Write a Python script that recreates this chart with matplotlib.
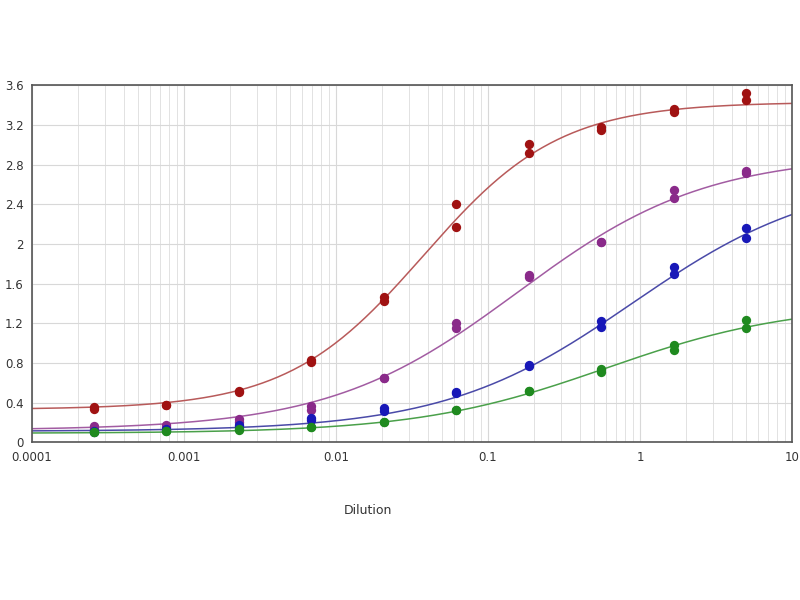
import numpy as np
import matplotlib
matplotlib.use("Agg")
import matplotlib.pyplot as plt
from matplotlib.ticker import LogLocator, FixedLocator, NullFormatter

# Dilution points (3-fold series)
dilution = [0.000254, 0.000762, 0.00229, 0.00686, 0.0206, 0.0617, 0.185, 0.556, 1.667, 5.0]

# Replicate readings (two per dilution)
red_a    = [0.33, 0.38, 0.51, 0.81, 1.46, 2.40, 3.01, 3.18, 3.36, 3.52]
red_b    = [0.36, 0.38, 0.52, 0.83, 1.42, 2.17, 2.92, 3.15, 3.33, 3.45]
purple_a = [0.16, 0.17, 0.23, 0.37, 0.65, 1.20, 1.69, 2.02, 2.54, 2.73]
purple_b = [0.13, 0.15, 0.20, 0.32, 0.65, 1.15, 1.67, 2.02, 2.46, 2.71]
blue_a   = [0.11, 0.13, 0.17, 0.24, 0.34, 0.51, 0.78, 1.22, 1.77, 2.16]
blue_b   = [0.10, 0.12, 0.15, 0.22, 0.31, 0.50, 0.77, 1.16, 1.70, 2.06]
green_a  = [0.10, 0.11, 0.13, 0.15, 0.20, 0.32, 0.52, 0.74, 0.98, 1.23]
green_b  = [0.10, 0.11, 0.12, 0.15, 0.20, 0.32, 0.52, 0.71, 0.93, 1.15]

# 4-parameter logistic fit parameters: bottom, top, EC50, hill
red_fit    = [0.33, 3.43, 0.0375, 0.97]
purple_fit = [0.12, 2.90, 0.156, 0.70]
blue_fit   = [0.11, 2.70, 0.897, 0.70]
green_fit  = [0.09, 1.40, 0.593, 0.70]

y_ticks = [0, 0.4, 0.8, 1.2, 1.6, 2, 2.4, 2.8, 3.2, 3.6]
y_tick_labels = ["0", "0.4", "0.8", "1.2", "1.6", "2", "2.4", "2.8", "3.2", "3.6"]
x_ticks = [0.0001, 0.001, 0.01, 0.1, 1, 10]
x_tick_labels = ["0.0001", "0.001", "0.01", "0.1", "1", "10"]

series = [
    (red_a, red_b, red_fit, "#a01212", "#b85a5a"),
    (purple_a, purple_b, purple_fit, "#8a2a8a", "#a25ca2"),
    (blue_a, blue_b, blue_fit, "#1818b8", "#4a4aa8"),
    (green_a, green_b, green_fit, "#1f8a1f", "#4aa04a"),
]

fig = plt.figure(figsize=(8, 6), dpi=100)
ax = fig.add_axes([0.04, 0.263, 0.95, 0.595])

xs = np.logspace(-4, 1, 400)
for a, b, fit, pc, lc in series:
    bot, top, c, h = fit
    ys = bot + (top - bot) / (1 + (c / xs) ** h)
    ax.plot(xs, ys, color=lc, lw=1.1, zorder=2)
    ax.scatter(dilution, a, s=45, color=pc, zorder=3, linewidths=0)
    ax.scatter(dilution, b, s=45, color=pc, zorder=3, linewidths=0)

ax.set_xscale("log")
ax.set_xlim(0.0001, 10)
ax.set_ylim(0, 3.6)
ax.xaxis.set_major_locator(FixedLocator(x_ticks))
ax.set_xticklabels(x_tick_labels)
ax.xaxis.set_minor_locator(LogLocator(base=10, subs=np.arange(2, 10), numticks=20))
ax.xaxis.set_minor_formatter(NullFormatter())
ax.set_yticks(y_ticks)
ax.set_yticklabels(y_tick_labels)

ax.grid(True, which="major", axis="both", color="#d8d8d8", lw=0.8, zorder=0)
ax.grid(True, which="minor", axis="x", color="#e2e2e2", lw=0.7, zorder=0)
ax.set_axisbelow(True)
ax.tick_params(axis="both", which="both", length=0, labelsize=8.5, labelcolor="#333333", pad=6)
for sp in ax.spines.values():
    sp.set_color("#555555")
    sp.set_linewidth(1.2)

fig.text(368 / 800, 1 - 510 / 600, "Dilution", fontsize=9, color="#333333",
         ha="center", va="center")

fig.savefig("out.png", dpi=100)
